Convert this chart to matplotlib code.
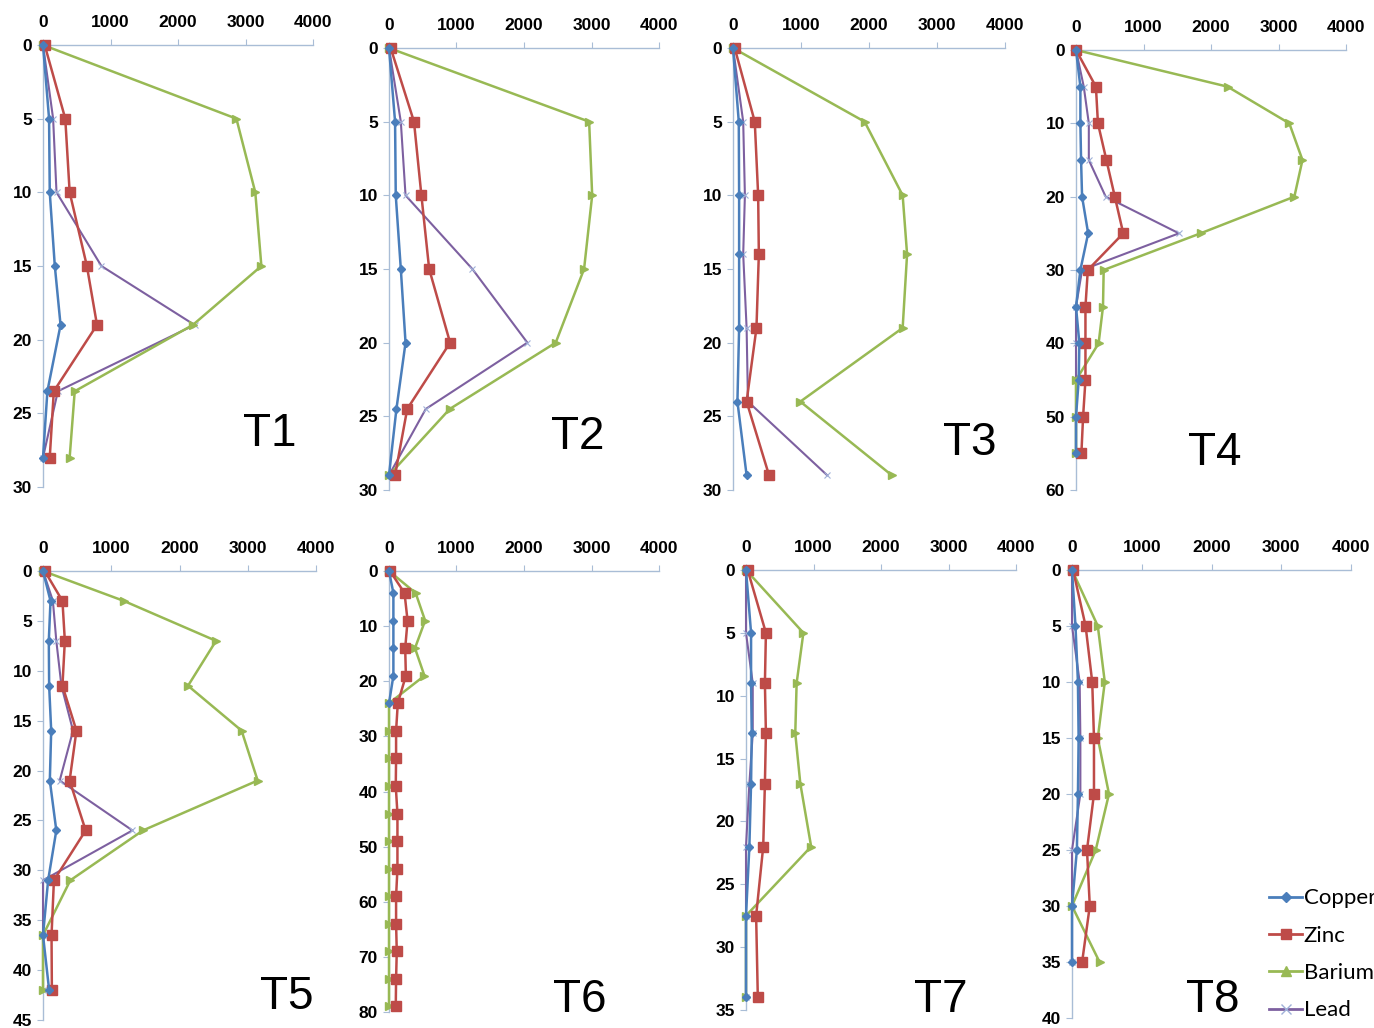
import numpy as np
import matplotlib.pyplot as plt
from matplotlib.lines import Line2D

nan = np.nan

# depth (y) and concentrations (x) for each profile
t1_depth = [0, 5, 10, 15, 19, 23.5, 28]
t1_copper = [0, 90, 100, 175, 260, 65, 0]
t1_zinc = [25, 330, 395, 650, 800, 160, 100]
t1_barium = [0, 2865, 3145, 3235, 2220, 470, 395]
t1_lead = [0, 150, 200, 865, 2245, 220, 0]

t2_depth = [0, 5, 10, 15, 20, 24.5, 29]
t2_copper = [0, 90, 100, 175, 245, 110, 0]
t2_zinc = [25, 370, 480, 595, 905, 270, 90]
t2_barium = [0, 2965, 3010, 2890, 2470, 900, 0]
t2_lead = [0, 175, 245, 1235, 2050, 545, 0]

t3_depth = [0, 5, 10, 14, 19, 24, 29]
t3_copper = [0, 85, 90, 90, 90, 65, 200]
t3_zinc = [25, 320, 370, 380, 345, 200, 530]
t3_barium = [0, 1935, 2495, 2560, 2495, 990, 2335]
t3_lead = [0, 150, 175, 150, 200, 220, 1385]

t4_depth = [0, 5, 10, 15, 20, 25, 30, 35, 40, 45, 50, 55]
t4_copper = [0, 65, 65, 75, 90, 180, 65, 0, 50, 40, 0, 0]
t4_zinc = [0, 295, 325, 450, 575, 700, 175, 140, 140, 140, 105, 80]
t4_barium = [0, 2245, 3160, 3355, 3235, 1845, 410, 400, 335, 0, 0, 0]
t4_lead = [0, 115, 190, 190, 440, 1525, 90, 0, 0, 0, 0, 0]

t5_depth = [0, 3, 7, 11.5, 16, 21, 26, 31, 36.5, 42]
t5_copper = [0, 110, 85, 90, 120, 100, 195, 75, 0, 90]
t5_zinc = [25, 285, 320, 285, 490, 390, 625, 160, 125, 130]
t5_barium = [0, 1185, 2535, 2125, 2910, 3145, 1465, 400, 0, 0]
t5_lead = [0, 145, 195, 270, 440, 245, 1310, 0, 0, 0]

# T6: copper only down to 24, lead not shown
t6_depth = [0, 4, 9, 14, 19, 24, 29, 34, 39, 44, 49, 54, 59, 64, 69, 74, 79]
t6_copper = [0, 65, 65, 65, 65, 0, nan, nan, nan, nan, nan, nan, nan, nan, nan, nan, nan]
t6_zinc = [15, 230, 275, 240, 250, 130, 105, 105, 100, 125, 125, 125, 105, 105, 115, 105, 100]
t6_barium = [0, 395, 535, 385, 525, 0, 0, 0, 0, 0, 0, 0, 0, 0, 0, 0, 0]
t6_lead = [nan] * 17

t7_depth = [0, 5, 9, 13, 17, 22, 27.5, 34]
t7_copper = [0, 75, 75, 85, 75, 50, 0, 0]
t7_zinc = [25, 295, 280, 295, 280, 255, 150, 175]
t7_barium = [0, 850, 750, 730, 805, 965, 0, 0]
t7_lead = [0, 0, 100, 100, 50, 0, 0, 0]

t8_depth = [0, 5, 10, 15, 20, 25, 30, 35]
t8_copper = [0, 50, 85, 95, 85, 70, 0, 0]
t8_zinc = [15, 195, 290, 315, 315, 215, 255, 145]
t8_barium = [0, 370, 470, 370, 530, 340, 0, 395]
t8_lead = [0, 0, 110, 120, 120, 0, 0, 0]

panel_names = ["T1", "T2", "T3", "T4", "T5", "T6", "T7", "T8"]
depth_max = [30, 30, 30, 60, 45, 80, 35, 40]
depth_step = [5, 5, 5, 10, 5, 10, 5, 5]

panels = [
    (t1_depth, t1_copper, t1_zinc, t1_barium, t1_lead),
    (t2_depth, t2_copper, t2_zinc, t2_barium, t2_lead),
    (t3_depth, t3_copper, t3_zinc, t3_barium, t3_lead),
    (t4_depth, t4_copper, t4_zinc, t4_barium, t4_lead),
    (t5_depth, t5_copper, t5_zinc, t5_barium, t5_lead),
    (t6_depth, t6_copper, t6_zinc, t6_barium, t6_lead),
    (t7_depth, t7_copper, t7_zinc, t7_barium, t7_lead),
    (t8_depth, t8_copper, t8_zinc, t8_barium, t8_lead),
]

# axes boxes in pixels: left, top, right, bottom (figure is 1374x1028)
boxes_px = [
    (43, 45, 313, 487), (389, 48, 659, 490), (733, 48, 1005, 490), (1076, 50, 1346, 490),
    (43, 571, 316, 1020), (389, 571, 659, 1012), (746, 570, 1016, 1010), (1072, 570, 1351, 1018),
]
# where the big T-labels sit (axes fraction)
label_pos = [(0.84, 0.12), (0.70, 0.12), (0.87, 0.106), (0.515, 0.085),
             (0.894, 0.051), (0.707, 0.027), (0.72, 0.023), (0.505, 0.04)]

c_cu = "#4a7ebb"
c_zn = "#be4b48"
c_ba = "#98b954"
c_pb = "#7d60a0"
spine_col = "#a9bdd6"

W, H = 1374, 1028
fig = plt.figure(figsize=(W / 100, H / 100), dpi=100)
plt.rcParams['font.family'] = ['Liberation Sans', 'DejaVu Sans']

for i, (name, data) in enumerate(zip(panel_names, panels)):
    l, t, r, b = boxes_px[i]
    ax = fig.add_axes([l / W, 1 - b / H, (r - l) / W, (b - t) / H])
    depth, cu, zn, ba, pb = data

    ax.plot(pb, depth, color=c_pb, lw=1.5, marker="x", ms=5, mew=0.8, mec="#9fb0d8", zorder=3)
    ax.plot(ba, depth, color=c_ba, lw=1.8, marker=">", ms=6, zorder=4)
    ax.plot(zn, depth, color=c_zn, lw=1.8, marker="s", ms=6.5, zorder=5)
    ax.plot(cu, depth, color=c_cu, lw=1.8, marker="D", ms=4, zorder=6)

    ax.set_xlim(0, 4000)
    ax.set_ylim(depth_max[i], 0)
    ax.set_xticks([0, 1000, 2000, 3000, 4000])
    ax.set_yticks(np.arange(0, depth_max[i] + 1, depth_step[i]))
    ax.xaxis.tick_top()
    for s in ["right", "bottom"]:
        ax.spines[s].set_visible(False)
    for s in ["left", "top"]:
        ax.spines[s].set_color(spine_col)
        ax.spines[s].set_linewidth(1.0)
    ax.tick_params(axis="both", direction="out", length=4, color=spine_col,
                   labelsize=12.5)
    ax.tick_params(axis="x", pad=7)
    ax.tick_params(axis="y", pad=4)
    for lab in ax.get_xticklabels() + ax.get_yticklabels():
        lab.set_fontweight("bold")
    ax.patch.set_alpha(0)
    for line in ax.get_lines():
        line.set_clip_on(False)

    ax.text(label_pos[i][0], label_pos[i][1], name, transform=ax.transAxes,
            ha="center", va="center", fontsize=33, family="Liberation Sans")

handles = [
    Line2D([], [], color=c_cu, lw=2, marker="D", ms=5),
    Line2D([], [], color=c_zn, lw=2, marker="s", ms=7),
    Line2D([], [], color=c_ba, lw=2, marker="^", ms=7),
    Line2D([], [], color=c_pb, lw=2, marker="x", ms=7, mec="#9fb0d8"),
]
fig.legend(handles, ["Copper", "Zinc", "Barium", "Lead"], loc="lower right",
           bbox_to_anchor=(1.016, -0.012), frameon=False,
           handlelength=1.5, handletextpad=0.05, labelspacing=0.78,
           prop={"family": "Lato", "size": 16})

fig.savefig("out.png", dpi=100)
